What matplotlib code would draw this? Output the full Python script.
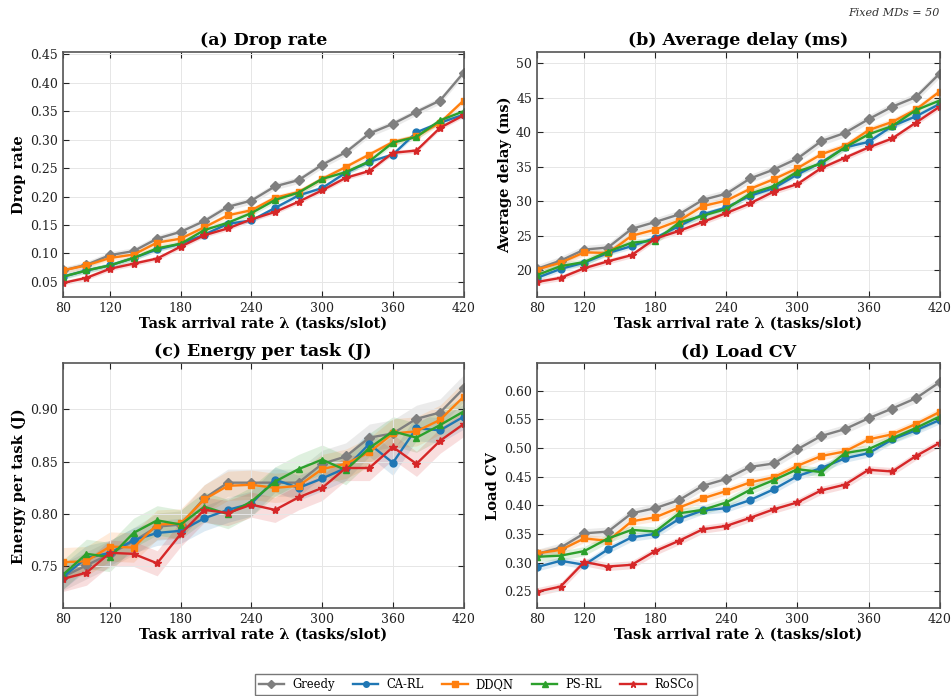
import numpy as np
import matplotlib
matplotlib.use("Agg")
import matplotlib.pyplot as plt

plt.rcParams['font.family'] = ['DejaVu Serif']

x = [80, 100, 120, 140, 160, 180, 200, 220, 240, 260, 280, 300, 320, 340, 360, 380, 400, 420]
methods = ["Greedy", "CA-RL", "DDQN", "PS-RL", "RoSCo"]

# (a) Drop rate
drop_greedy = [0.070, 0.080, 0.097, 0.104, 0.126, 0.138, 0.157, 0.182, 0.193, 0.218, 0.229, 0.256, 0.278, 0.311, 0.328, 0.349, 0.369, 0.418]
drop_carl   = [0.059, 0.070, 0.079, 0.092, 0.107, 0.117, 0.133, 0.152, 0.158, 0.180, 0.202, 0.215, 0.242, 0.261, 0.274, 0.313, 0.330, 0.344]
drop_ddqn   = [0.070, 0.079, 0.092, 0.098, 0.119, 0.126, 0.146, 0.167, 0.176, 0.198, 0.208, 0.231, 0.252, 0.274, 0.296, 0.306, 0.330, 0.369]
drop_psrl   = [0.059, 0.070, 0.079, 0.092, 0.109, 0.117, 0.141, 0.154, 0.171, 0.194, 0.207, 0.231, 0.243, 0.262, 0.295, 0.305, 0.334, 0.350]
drop_rosco  = [0.048, 0.057, 0.073, 0.082, 0.091, 0.112, 0.132, 0.144, 0.160, 0.173, 0.191, 0.211, 0.233, 0.245, 0.277, 0.281, 0.321, 0.343]

# (b) Average delay (ms)
delay_greedy = [20.2, 21.4, 23.0, 23.3, 26.0, 27.0, 28.1, 30.2, 31.1, 33.3, 34.6, 36.2, 38.7, 39.9, 41.9, 43.7, 45.1, 48.5]
delay_carl   = [18.9, 20.2, 21.1, 22.5, 23.5, 24.7, 26.4, 28.1, 29.1, 30.8, 31.9, 33.9, 35.6, 37.8, 38.6, 40.9, 42.3, 44.1]
delay_ddqn   = [20.1, 21.1, 22.6, 22.5, 25.0, 25.9, 27.2, 29.3, 30.1, 31.8, 33.2, 34.8, 36.8, 38.0, 40.3, 41.5, 43.3, 45.9]
delay_psrl   = [19.3, 20.6, 21.2, 22.7, 24.0, 24.3, 26.9, 27.9, 28.9, 31.1, 32.2, 34.3, 35.5, 37.8, 39.7, 40.9, 43.2, 44.6]
delay_rosco  = [18.3, 18.9, 20.3, 21.3, 22.2, 24.6, 25.7, 27.0, 28.3, 29.7, 31.4, 32.5, 34.8, 36.3, 37.8, 39.1, 41.4, 43.7]

# (c) Energy per task (J)
energy_greedy = [0.740, 0.751, 0.762, 0.774, 0.788, 0.790, 0.815, 0.830, 0.830, 0.830, 0.830, 0.848, 0.855, 0.873, 0.877, 0.891, 0.897, 0.920]
energy_carl   = [0.740, 0.758, 0.763, 0.775, 0.782, 0.784, 0.796, 0.804, 0.810, 0.833, 0.825, 0.834, 0.844, 0.867, 0.849, 0.882, 0.880, 0.893]
energy_ddqn   = [0.754, 0.755, 0.769, 0.768, 0.790, 0.791, 0.814, 0.827, 0.828, 0.825, 0.827, 0.843, 0.848, 0.859, 0.877, 0.879, 0.890, 0.912]
energy_psrl   = [0.742, 0.762, 0.759, 0.782, 0.794, 0.790, 0.807, 0.800, 0.812, 0.831, 0.843, 0.852, 0.842, 0.863, 0.879, 0.873, 0.885, 0.898]
energy_rosco  = [0.738, 0.744, 0.763, 0.762, 0.753, 0.781, 0.804, 0.801, 0.809, 0.804, 0.816, 0.825, 0.844, 0.844, 0.864, 0.848, 0.870, 0.886]

# (d) Load CV
cv_greedy = [0.315, 0.326, 0.351, 0.354, 0.386, 0.395, 0.409, 0.434, 0.446, 0.467, 0.473, 0.498, 0.521, 0.533, 0.552, 0.569, 0.587, 0.615]
cv_carl   = [0.292, 0.303, 0.296, 0.323, 0.344, 0.350, 0.376, 0.391, 0.395, 0.409, 0.428, 0.451, 0.465, 0.482, 0.491, 0.515, 0.531, 0.549]
cv_ddqn   = [0.316, 0.322, 0.342, 0.338, 0.372, 0.379, 0.396, 0.412, 0.425, 0.440, 0.449, 0.469, 0.486, 0.494, 0.515, 0.524, 0.542, 0.563]
cv_psrl   = [0.310, 0.312, 0.320, 0.342, 0.357, 0.354, 0.386, 0.392, 0.405, 0.427, 0.444, 0.463, 0.458, 0.491, 0.498, 0.517, 0.535, 0.555]
cv_rosco  = [0.249, 0.258, 0.301, 0.293, 0.296, 0.320, 0.338, 0.358, 0.364, 0.378, 0.393, 0.405, 0.426, 0.436, 0.462, 0.459, 0.486, 0.509]

# band half-widths (spread) per panel, per method
spread_drop   = [0.006, 0.004, 0.005, 0.005, 0.004]
spread_delay  = [0.6, 0.4, 0.5, 0.5, 0.4]
spread_energy = [0.013, 0.012, 0.014, 0.014, 0.012]
spread_cv     = [0.008, 0.007, 0.007, 0.008, 0.007]

colors = ['#7f7f7f', '#1f77b4', '#ff7f0e', '#2ca02c', '#d62728']
markers = ['D', 'o', 's', '^', '*']
msizes = [5, 5, 5, 5, 6]

panels = [
    ("(a) Drop rate", "Drop rate", [drop_greedy, drop_carl, drop_ddqn, drop_psrl, drop_rosco], spread_drop,
     (0.023, 0.454), [0.05, 0.10, 0.15, 0.20, 0.25, 0.30, 0.35, 0.40, 0.45], "{:.2f}"),
    ("(b) Average delay (ms)", "Average delay (ms)", [delay_greedy, delay_carl, delay_ddqn, delay_psrl, delay_rosco], spread_delay,
     (16.1, 51.6), [20, 25, 30, 35, 40, 45, 50], "{:.0f}"),
    ("(c) Energy per task (J)", "Energy per task (J)", [energy_greedy, energy_carl, energy_ddqn, energy_psrl, energy_rosco], spread_energy,
     (0.710, 0.944), [0.75, 0.80, 0.85, 0.90], "{:.2f}"),
    ("(d) Load CV", "Load CV", [cv_greedy, cv_carl, cv_ddqn, cv_psrl, cv_rosco], spread_cv,
     (0.220, 0.648), [0.25, 0.30, 0.35, 0.40, 0.45, 0.50, 0.55, 0.60], "{:.2f}"),
]

fig = plt.figure(figsize=(9.52, 6.96), dpi=100)
rects = [
    [0.066, 0.573, 0.421, 0.352],
    [0.564, 0.573, 0.423, 0.352],
    [0.066, 0.126, 0.421, 0.352],
    [0.564, 0.126, 0.423, 0.352],
]
xa = np.array(x)
handles = []
for (title, ylabel, series, spreads, ylim, yticks, fmt), rect in zip(panels, rects):
    ax = fig.add_axes(rect)
    for i, (vals, name) in enumerate(zip(series, methods)):
        v = np.array(vals)
        ax.fill_between(xa, v - spreads[i], v + spreads[i], color=colors[i], alpha=0.15, linewidth=0)
        h, = ax.plot(xa, v, color=colors[i], marker=markers[i], markersize=msizes[i], linewidth=1.7, label=name)
        if len(handles) < 5:
            handles.append(h)
    ax.set_xlim(80, 420)
    ax.set_ylim(*ylim)
    ax.set_xticks([80, 120, 180, 240, 300, 360, 420])
    ax.set_yticks(yticks)
    ax.set_yticklabels([fmt.format(t) for t in yticks])
    ax.grid(True, color='#e6e6e6', linewidth=0.7)
    ax.tick_params(direction='in', top=True, right=True, labelsize=9, length=4, colors='#222222')
    for s in ax.spines.values():
        s.set_color('#555555')
        s.set_linewidth(1.2)
    ax.set_title(title, fontsize=12.5, fontweight='bold', pad=5)
    ax.set_xlabel("Task arrival rate λ (tasks/slot)", fontsize=10.5, fontweight='bold', labelpad=1)
    ax.set_ylabel(ylabel, fontsize=10.5, fontweight='bold', labelpad=3)

fig.text(0.987, 0.982, "Fixed MDs = 50", ha='right', va='center', fontsize=8, style='italic', color='#333333')

leg = fig.legend(handles=handles, labels=methods, loc='center', bbox_to_anchor=(0.5, 0.017), ncol=5,
                 fontsize=8.3, frameon=True, fancybox=False, edgecolor='#555555', handlelength=2.2,
                 columnspacing=1.6, borderpad=0.35, markerscale=0.8, handletextpad=0.7)
leg.get_frame().set_linewidth(1.0)

fig.savefig("out.png", dpi=100)
